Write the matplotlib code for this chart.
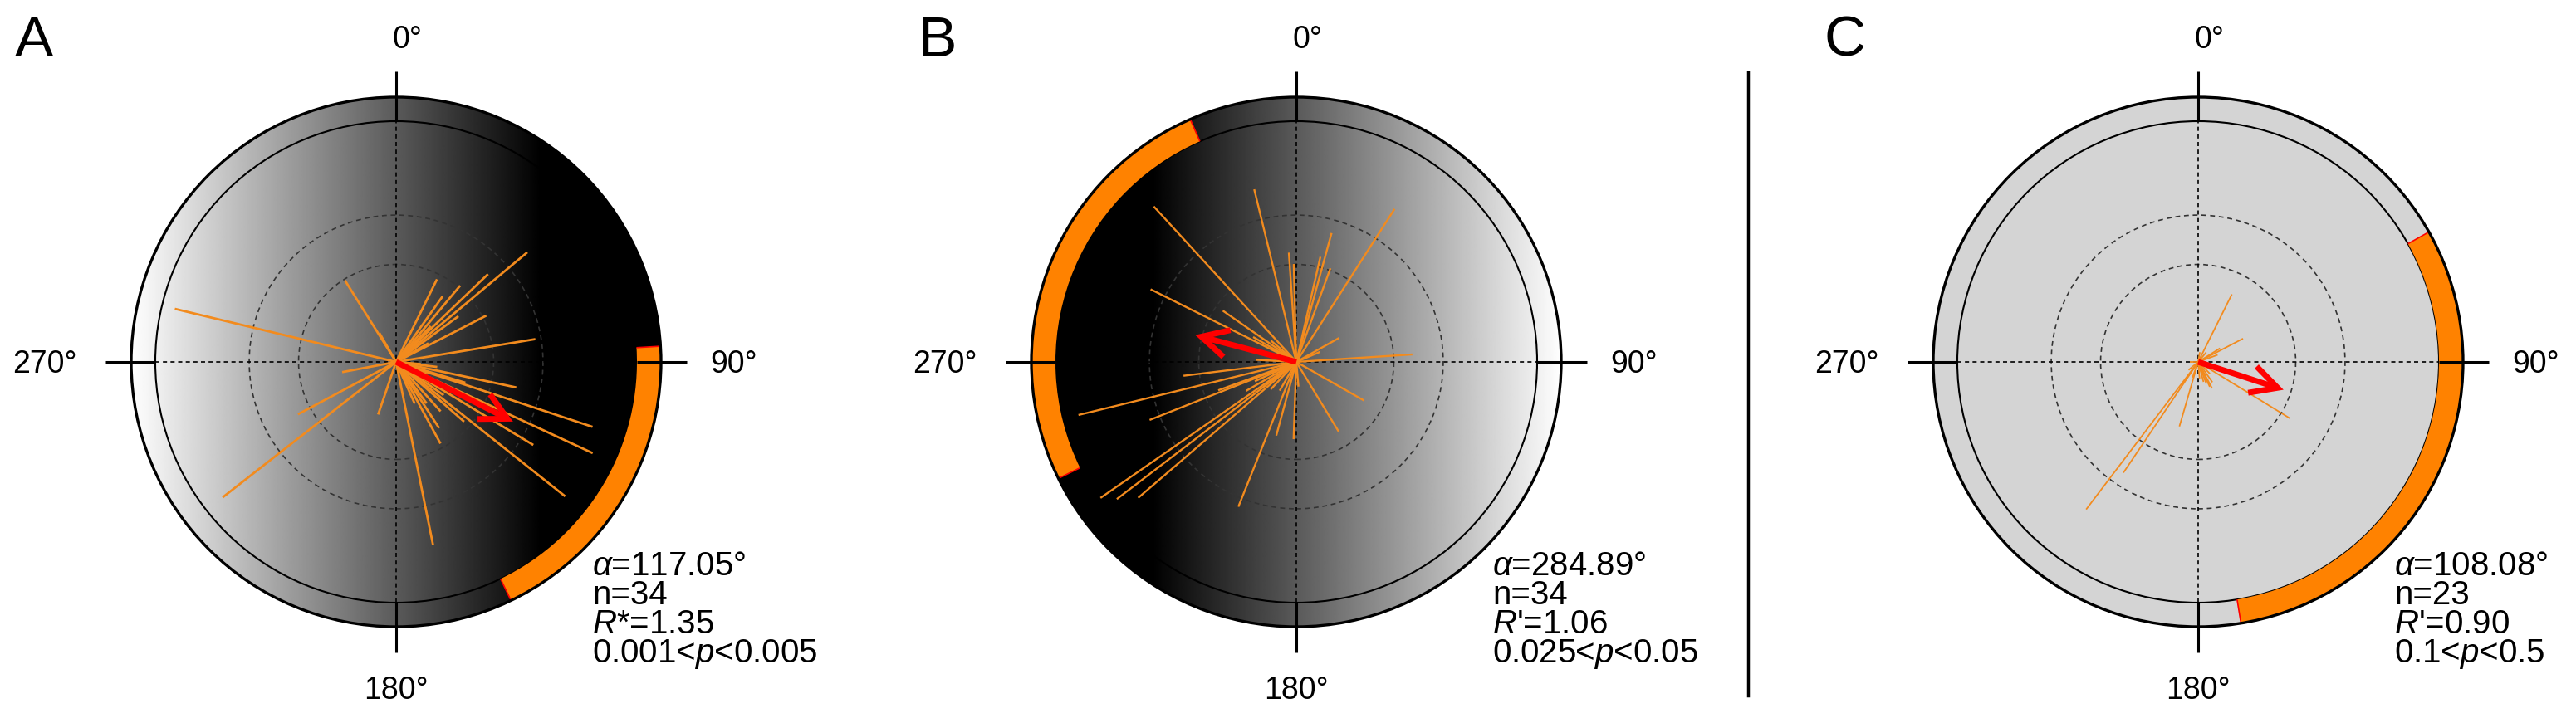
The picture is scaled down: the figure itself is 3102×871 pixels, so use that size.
import numpy as np
import matplotlib
matplotlib.use("Agg")
import matplotlib.pyplot as plt
from matplotlib.patches import Circle, Wedge, FancyArrowPatch, ArrowStyle
from matplotlib.collections import LineCollection
from matplotlib.lines import Line2D

plt.rcParams['font.family'] = ['Liberation Sans', 'DejaVu Sans']
plt.rcParams['mathtext.fontset'] = 'custom'
plt.rcParams['mathtext.rm'] = 'Liberation Sans'
plt.rcParams['mathtext.it'] = 'Liberation Sans:italic'

# ---------------- data ----------------
panel_labels = ["A", "B", "C"]
cardinal_labels = ["0°", "90°", "180°", "270°"]

# individual bearings (deg, clockwise from north) and vector lengths (fraction of circle radius)
A_angles = [50.1, 46.3, 26.3, 35.3, 53.7, 62.8, 80.7, 327.9, 283.5, 232.0, 241.9, 259.3,
            198.9, 168.6, 151.5, 143.7, 131.3, 121.2, 128.5, 108.3, 114.9, 102.0, 97.0,
            106.7, 40.0, 44.0, 138.0, 147.0, 125.0, 112.0, 156.0, 95.0, 60.0, 330.0]
A_lengths = [0.710, 0.528, 0.383, 0.334, 0.321, 0.421, 0.586, 0.400, 0.945, 0.914, 0.462,
             0.228, 0.231, 0.776, 0.386, 0.214, 0.376, 0.666, 0.897, 0.859, 0.900, 0.510,
             0.172, 0.300, 0.414, 0.207, 0.276, 0.328, 0.241, 0.138, 0.190, 0.103, 0.155, 0.138]

B_angles = [317.5, 296.5, 304.9, 346.3, 356.1, 15.3, 12.9, 32.7, 60.7, 86.3, 119.7, 148.7,
            182.0, 195.2, 201.8, 263.0, 256.3, 248.4, 235.2, 232.6, 229.3, 358.5, 20.0,
            223.0, 273.0, 67.0, 240.0, 245.0, 300.0, 310.0, 210.0, 285.0, 250.0, 175.0]
B_lengths = [0.876, 0.676, 0.372, 0.738, 0.455, 0.555, 0.448, 0.755, 0.203, 0.483, 0.324,
             0.338, 0.321, 0.317, 0.648, 0.472, 0.931, 0.655, 0.990, 0.938, 0.866, 0.407,
             0.414, 0.155, 0.166, 0.107, 0.241, 0.190, 0.207, 0.138, 0.138, 0.121, 0.345, 0.103]

C_angles = [26.5, 62.5, 58.0, 121.6, 152.2, 159.4, 196.2, 214.0, 217.2, 155.0, 145.0, 165.0,
            135.0, 100.0, 70.0, 40.0, 200.0, 215.0, 270.0, 120.0, 175.0, 10.0, 230.0]
C_lengths = [0.314, 0.210, 0.107, 0.448, 0.124, 0.097, 0.279, 0.555, 0.769, 0.114, 0.103,
             0.086, 0.069, 0.062, 0.086, 0.052, 0.069, 0.121, 0.034, 0.052, 0.069, 0.041, 0.052]

# mean direction and mean vector length
mean_angles = [117.05, 284.89, 108.08]
mean_lengths = [0.545, 0.434, 0.373]

# confidence arcs (deg)
ci_low = [86.6, 243.9, 60.6]
ci_high = [154.3, 336.4, 170.7]

stats_text = [
    [r"$\mathit{α}$=117.05°", "n=34", r"$\mathit{R}$*=1.35", r"0.001<$\mathit{p}$<0.005"],
    [r"$\mathit{α}$=284.89°", "n=34", r"$\mathit{R}$'=1.06", r"0.025<$\mathit{p}$<0.05"],
    [r"$\mathit{α}$=108.08°", "n=23", r"$\mathit{R}$'=0.90", r"0.1<$\mathit{p}$<0.5"],
]
backgrounds = ["grad_right_dark", "grad_left_dark", "flat"]

angles_all = [A_angles, B_angles, C_angles]
lengths_all = [A_lengths, B_lengths, C_lengths]

# ---------------- layout ----------------
W, H = 3102, 871
U = 290.0            # px per unit radius
CY = 436             # px from top
centers = [477, 1561, 2647]
label_x = [18, 1105, 2196]
R_IN, R_OUT, R_TICK = 1.0, 1.10, 1.207

ORANGE_LINE = '#f28b1e'
ORANGE_ARC = '#ff8200'

fig = plt.figure(figsize=(W / 100, H / 100), dpi=100)


def pol(theta, r):
    t = np.deg2rad(theta)
    return r * np.sin(t), r * np.cos(t)


for i in range(3):
    cx = centers[i]
    left_px, right_px = 470, 520
    ax = fig.add_axes([(cx - left_px) / W, 0, (left_px + right_px) / W, 1])
    ax.set_xlim(-left_px / U, right_px / U)
    ax.set_ylim(-(H - CY) / U, CY / U)
    ax.axis('off')

    # background disk
    clip = Circle((0, 0), R_OUT, transform=ax.transData)
    if backgrounds[i] == "flat":
        ax.add_patch(Circle((0, 0), R_OUT, facecolor='#d4d4d4', edgecolor='none', zorder=0))
    else:
        xs = np.linspace(-R_OUT, R_OUT, 600)
        if backgrounds[i] == "grad_right_dark":
            v = np.clip((0.60 - xs) / (0.60 + R_OUT), 0, 1)
        else:
            v = np.clip((xs + 0.60) / (0.60 + R_OUT), 0, 1)
        im = ax.imshow(v[None, :], extent=(-R_OUT, R_OUT, -R_OUT, R_OUT), cmap='gray',
                       vmin=0, vmax=1, interpolation='bilinear', aspect='auto', zorder=0)
        im.set_clip_path(clip)
    ax.set_xlim(-left_px / U, right_px / U)
    ax.set_ylim(-(H - CY) / U, CY / U)

    # inner circle
    ax.add_patch(Circle((0, 0), R_IN, fill=False, edgecolor='black', lw=1.5, zorder=2))
    # confidence arc
    ax.add_patch(Wedge((0, 0), R_OUT, 90 - ci_high[i], 90 - ci_low[i], width=R_OUT - R_IN,
                       facecolor=ORANGE_ARC, edgecolor='none', zorder=3))
    for a in (ci_low[i], ci_high[i]):
        x0, y0 = pol(a, R_IN)
        x1, y1 = pol(a, R_OUT)
        ax.plot([x0, x1], [y0, y1], color='red', lw=1.2, zorder=3.5, solid_capstyle='butt')
    # outer circle
    ax.add_patch(Circle((0, 0), R_OUT, fill=False, edgecolor='black', lw=2.4, zorder=4))

    # dashed rings
    for rr in (0.405, 0.61):
        ax.add_patch(Circle((0, 0), rr, fill=False, edgecolor='#333333', lw=1.2,
                            linestyle=(0, (3.5, 2.8)), zorder=2))
    # dashed crosshair
    ax.plot([-R_IN, R_IN], [0, 0], color='black', lw=1.2, linestyle=(0, (3, 2.5)), zorder=2)
    ax.plot([0, 0], [-R_IN, R_IN], color='black', lw=1.2, linestyle=(0, (3, 2.5)), zorder=2)

    # individual vectors
    segs = []
    for th, ln in zip(angles_all[i], lengths_all[i]):
        x, y = pol(th, ln)
        segs.append([(0, 0), (x, y)])
    lw_lines = [2.0, 1.7, 1.3][i]
    ax.add_collection(LineCollection(segs, colors=ORANGE_LINE, linewidths=lw_lines, zorder=5))

    # mean vector arrow
    tx, ty = pol(mean_angles[i], mean_lengths[i])
    arr = FancyArrowPatch((0, 0), (tx, ty),
                          arrowstyle=ArrowStyle('->', head_length=23, head_width=12),
                          mutation_scale=1, lw=5, color='red', shrinkA=0, shrinkB=0,
                          joinstyle='miter', capstyle='butt', zorder=6)
    ax.add_patch(arr)

    # solid ticks at cardinal directions
    for a in (0, 90, 180, 270):
        x0, y0 = pol(a, R_IN)
        x1, y1 = pol(a, R_TICK)
        ax.plot([x0, x1], [y0, y1], color='black', lw=2.2, zorder=7, solid_capstyle='butt')

    fs = 27
    ax.text(0.048, (CY - 58) / U, cardinal_labels[0], ha='center', va='baseline', fontsize=fs)
    ax.text(378 / U, -13 / U, cardinal_labels[1], ha='left', va='baseline', fontsize=fs)
    ax.text(0, (CY - 842) / U, cardinal_labels[2], ha='center', va='baseline', fontsize=fs)
    ax.text(-384 / U, -13 / U, cardinal_labels[3], ha='right', va='baseline', fontsize=fs)

    for k, line in enumerate(stats_text[i]):
        ax.text(236 / U, -(257 + 35 * k) / U, line, ha='left', va='baseline', fontsize=29)

    fig.text(label_x[i] / W, 1 - 68 / H, panel_labels[i], ha='left', va='baseline', fontsize=50)

# separator line
fig.add_artist(Line2D([2105 / W, 2105 / W], [1 - 87 / H, 1 - 838 / H], transform=fig.transFigure,
                      color='black', lw=2.5))

fig.savefig("out.png", dpi=100, facecolor='white')
